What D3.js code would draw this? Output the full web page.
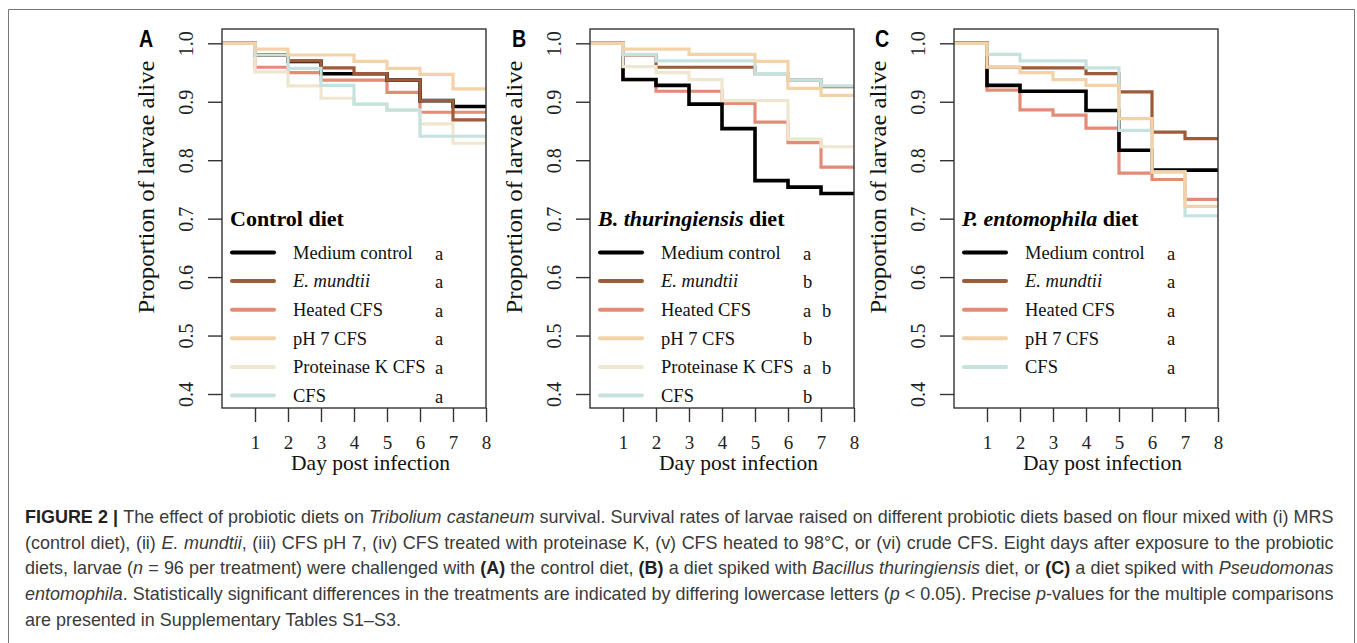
<!DOCTYPE html>
<html>
<head>
<meta charset="utf-8">
<script src="https://cdn.jsdelivr.net/npm/d3@7"></script>
<style>
  body { margin: 0; background: #fff; }
  svg { display: block; }
  .serif { font-family: "Liberation Serif", "Times New Roman", serif; }
</style>
</head>
<body>
<svg id="fig" width="1357" height="643"></svg>
<script>
// ---- data ----
var days = [0, 1, 2, 3, 4, 5, 6, 7, 8];
var dayTicks = [1, 2, 3, 4, 5, 6, 7, 8];
var propTicks = [0.4, 0.5, 0.6, 0.7, 0.8, 0.9, 1.0];

var treatments = ["Medium control", "E. mundtii", "Heated CFS", "pH 7 CFS", "Proteinase K CFS", "CFS"];

// survival per day, one row per treatment (same order as treatments)
var controlDiet = [
    [1, 0.980, 0.969, 0.948, 0.948, 0.937, 0.902, 0.892, 0.892],
    [1, 0.980, 0.970, 0.958, 0.948, 0.937, 0.902, 0.869, 0.869],
    [1, 0.959, 0.950, 0.937, 0.937, 0.916, 0.882, 0.882, 0.882],
    [1, 0.990, 0.980, 0.980, 0.969, 0.957, 0.947, 0.922, 0.922],
    [1, 0.951, 0.927, 0.906, 0.896, 0.885, 0.862, 0.829, 0.829],
    [1, 0.980, 0.957, 0.928, 0.896, 0.886, 0.841, 0.841, 0.841]
];
var btDiet = [
    [1, 0.938, 0.928, 0.896, 0.854, 0.765, 0.754, 0.743, 0.743],
    [1, 0.980, 0.959, 0.959, 0.959, 0.948, 0.937, 0.926, 0.926],
    [1, 0.938, 0.918, 0.918, 0.897, 0.865, 0.830, 0.788, 0.788],
    [1, 0.990, 0.990, 0.981, 0.981, 0.969, 0.923, 0.911, 0.911],
    [1, 0.960, 0.950, 0.938, 0.902, 0.902, 0.836, 0.823, 0.823],
    [1, 0.981, 0.970, 0.970, 0.970, 0.948, 0.937, 0.927, 0.927]
];
// no proteinase K arm on the P. entomophila diet
var peDiet = [
    [1, 0.928, 0.918, 0.918, 0.885, 0.817, 0.783, 0.783, 0.783],
    [1, 0.959, 0.958, 0.958, 0.948, 0.917, 0.848, 0.837, 0.837],
    [1, 0.920, 0.886, 0.877, 0.855, 0.778, 0.767, 0.733, 0.733],
    [1, 0.959, 0.950, 0.938, 0.928, 0.871, 0.780, 0.721, 0.721],
    null,
    [1, 0.981, 0.970, 0.970, 0.958, 0.851, 0.780, 0.705, 0.705]
];

var controlLetters = ["a", "a", "a", "a", "a", "a"];
var btLetters = ["a", "b", "a b", "b", "a b", "b"];
var peLetters = ["a", "a", "a", "a", null, "a"];

var colors = ["#000000", "#9d5b3a", "#e48b77", "#f4d2a7", "#efe6cf", "#c6e2de"];
var drawOrder = [2, 0, 1, 4, 5, 3];

var svg = d3.select("#fig");
svg.append("rect").attr("width", 1357).attr("height", 643).attr("fill", "#fff");

// outer frame of the figure page
svg.append("path")
    .attr("d", "M8.5,660 V9.5 H1354.5 V660")
    .attr("fill", "none").attr("stroke", "#777").attr("stroke-width", 1);

var panels = [
    {letter: "A", left: 222, letterX: 139, title: [["Control diet", "normal"]], rows: controlDiet, letters: controlLetters},
    {letter: "B", left: 590, letterX: 512, title: [["B. thuringiensis", "italic"], [" diet", "normal"]], rows: btDiet, letters: btLetters},
    {letter: "C", left: 954, letterX: 875, title: [["P. entomophila", "italic"], [" diet", "normal"]], rows: peDiet, letters: peLetters}
];

var W = 264, TOP = 29, BOTTOM = 408;

panels.forEach(function (p) {
    var x = d3.scaleLinear().domain([0, 8]).range([p.left, p.left + W]);
    var y = d3.scaleLinear().domain([0.4, 1.0]).range([394, 43.3]);
    var g = svg.append("g");

    // panel letter (narrow bold sans)
    g.append("text")
        .attr("transform", "translate(" + p.letterX + ",47) scale(0.82,1)")
        .style("font-family", "'Liberation Sans', Arial, sans-serif")
        .style("font-weight", "bold").style("font-size", "24px")
        .text(p.letter);

    // step curves
    var line = d3.line()
        .x(function (d, i) { return x(days[i]); })
        .y(function (d) { return y(d); })
        .curve(d3.curveStepAfter);

    drawOrder.forEach(function (k) {
        if (!p.rows[k]) return;
        g.append("path")
            .attr("d", line(p.rows[k]))
            .attr("fill", "none")
            .attr("stroke", colors[k])
            .attr("stroke-width", k === 0 ? 3.6 : 3.2);
    });

    // box
    g.append("rect")
        .attr("x", p.left).attr("y", TOP)
        .attr("width", W).attr("height", BOTTOM - TOP)
        .attr("fill", "none").attr("stroke", "#333").attr("stroke-width", 1.4);

    // axes
    var xa = g.append("g")
        .attr("transform", "translate(0," + BOTTOM + ")")
        .call(d3.axisBottom(x).tickValues(dayTicks).tickSize(14).tickPadding(14).tickFormat(d3.format("d")));
    xa.select(".domain").remove();
    xa.selectAll("line").attr("stroke", "#333").attr("stroke-width", 1.4);
    xa.selectAll("text").style("font-size", "19px").attr("fill", "#222")
        .style("font-family", "'Liberation Serif', serif");

    var ya = g.append("g")
        .attr("transform", "translate(" + p.left + ",0)")
        .call(d3.axisLeft(y).tickValues(propTicks).tickSize(14).tickFormat(d3.format(".1f")));
    ya.select(".domain").remove();
    ya.selectAll("line").attr("stroke", "#333").attr("stroke-width", 1.4);
    ya.selectAll("text")
        .attr("x", null).attr("dy", null)
        .attr("text-anchor", "middle")
        .attr("transform", "translate(-29,0) rotate(-90)")
        .attr("fill", "#222")
        .style("font-size", "20px")
        .style("font-family", "'Liberation Serif', serif");

    // axis titles
    g.append("text").attr("class", "serif")
        .attr("x", x(4.5)).attr("y", 470)
        .attr("text-anchor", "middle").style("font-size", "21.5px").attr("fill", "#111")
        .text("Day post infection");
    g.append("text").attr("class", "serif")
        .attr("transform", "translate(" + (p.left - 68) + ",187) rotate(-90)")
        .attr("text-anchor", "middle").style("font-size", "23px").attr("fill", "#111")
        .attr("textLength", 253).attr("lengthAdjust", "spacingAndGlyphs")
        .text("Proportion of larvae alive");

    // legend
    var lx = p.left;
    var title = g.append("text").attr("class", "serif")
        .attr("x", lx + 8).attr("y", 226)
        .style("font-size", "22px").style("font-weight", "bold");
    p.title.forEach(function (t) {
        title.append("tspan").style("font-style", t[1]).text(t[0]);
    });

    var row = 0;
    treatments.forEach(function (name, k) {
        if (!p.rows[k]) return;
        var cy = 252.5 + row * 28.6;
        row++;
        g.append("line")
            .attr("x1", lx + 10).attr("x2", lx + 52)
            .attr("y1", cy).attr("y2", cy)
            .attr("stroke", colors[k]).attr("stroke-width", 4)
            .attr("stroke-linecap", "round");
        g.append("text").attr("class", "serif")
            .attr("x", lx + 71).attr("y", cy).attr("dy", "0.34em")
            .style("font-size", "18.5px")
            .style("font-style", k === 1 ? "italic" : "normal")
            .attr("fill", "#111")
            .text(name);
        var parts = p.letters[k].split(" ");
        parts.forEach(function (s, j) {
            g.append("text").attr("class", "serif")
                .attr("x", lx + 213 + j * 19).attr("y", cy).attr("dy", "0.38em")
                .style("font-size", "18.5px").attr("fill", "#111")
                .text(s);
        });
    });
});

// ---- caption ----
var caption = [
    [["FIGURE 2 | ", "b"], ["The effect of probiotic diets on ", ""], ["Tribolium castaneum", "i"],
     [" survival. Survival rates of larvae raised on different probiotic diets based on flour mixed with (i) MRS", ""]],
    [["(control diet), (ii) ", ""], ["E. mundtii", "i"],
     [", (iii) CFS pH 7, (iv) CFS treated with proteinase K, (v) CFS heated to 98\u00b0C, or (vi) crude CFS. Eight days after exposure to the probiotic", ""]],
    [["diets, larvae (", ""], ["n", "i"], [" = 96 per treatment) were challenged with ", ""], ["(A)", "b"],
     [" the control diet, ", ""], ["(B)", "b"], [" a diet spiked with ", ""], ["Bacillus thuringiensis", "i"],
     [" diet, or ", ""], ["(C)", "b"], [" a diet spiked with ", ""], ["Pseudomonas", "i"]],
    [["entomophila", "i"], [". Statistically significant differences in the treatments are indicated by differing lowercase letters (", ""],
     ["p", "i"], [" < 0.05). Precise ", ""], ["p", "i"], ["-values for the multiple comparisons", ""]],
    [["are presented in Supplementary Tables S1\u2013S3.", ""]]
];

var capG = svg.append("g");
var capLines = caption.map(function (segs, i) {
    var t = capG.append("text")
        .attr("x", 0).attr("y", 523 + i * 25.7)
        .style("font-family", "'Liberation Sans', Arial, sans-serif")
        .style("font-size", "18px")
        .attr("fill", "#3a3a3a");
    segs.forEach(function (s) {
        var ts = t.append("tspan").text(s[0]);
        if (s[1] === "b") ts.style("font-weight", "bold").attr("fill", "#222");
        if (s[1] === "i") ts.style("font-style", "italic");
    });
    return t;
});

// squeeze to the narrow face of the original, then justify lines 1-4 to the column width
var natural = capLines.map(function (t) { return t.node().getComputedTextLength(); });
var k = Math.min(1, 1310 / d3.max(natural.slice(0, 4)));
capG.attr("transform", "translate(25,0) scale(" + k + ",1)");
capLines.forEach(function (t, i) {
    if (i === 4) return;
    var spaces = t.text().split(" ").length - 1;
    t.style("word-spacing", ((1310 / k - natural[i]) / spaces) + "px");
});
</script>
</body>
</html>
